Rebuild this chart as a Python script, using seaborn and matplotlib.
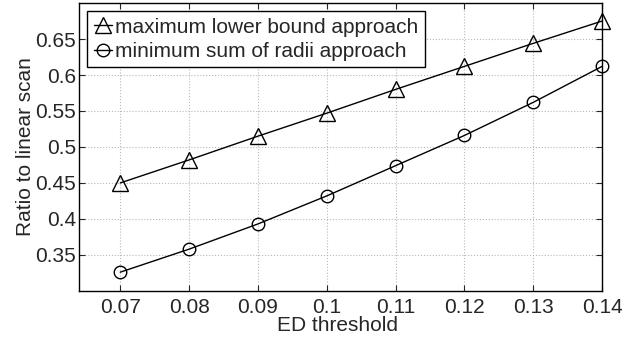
import matplotlib
matplotlib.use("Agg")
import matplotlib.pyplot as plt
import numpy as np
import pandas as pd
import seaborn as sns

sns.set_style("ticks")
plt.rcParams['font.family'] = ['Liberation Sans', 'DejaVu Sans']

# data
thresholds = [0.07, 0.08, 0.09, 0.10, 0.11, 0.12, 0.13, 0.14]
max_lower_bound = [0.450, 0.482, 0.515, 0.547, 0.580, 0.612, 0.644, 0.675]
min_sum_radii = [0.326, 0.358, 0.393, 0.432, 0.474, 0.516, 0.562, 0.612]
xtick_labels = ["0.07", "0.08", "0.09", "0.1", "0.11", "0.12", "0.13", "0.14"]
ytick_vals = [0.35, 0.4, 0.45, 0.5, 0.55, 0.6, 0.65]
ytick_labels = ["0.35", "0.4", "0.45", "0.5", "0.55", "0.6", "0.65"]

df_a = pd.DataFrame({"x": thresholds, "y": max_lower_bound})
df_b = pd.DataFrame({"x": thresholds, "y": min_sum_radii})

fig = plt.figure(figsize=(6.22, 3.39), dpi=100)
ax = fig.add_axes([0.127, 0.142, 0.841, 0.849])

sns.lineplot(data=df_a, x="x", y="y", ax=ax, color="black", linewidth=1.0,
             marker="^", markersize=11, mfc="none", mec="black", mew=1.0,
             label="maximum lower bound approach", clip_on=False)
sns.lineplot(data=df_b, x="x", y="y", ax=ax, color="black", linewidth=1.0,
             marker="o", markersize=9, mfc="none", mec="black", mew=1.0,
             label="minimum sum of radii approach", clip_on=False)

ax.set_xlim(0.064, 0.14)
ax.set_ylim(0.3, 0.7)
ax.set_xticks(thresholds)
ax.set_xticklabels(xtick_labels)
ax.set_yticks(ytick_vals)
ax.set_yticklabels(ytick_labels)
ax.tick_params(direction="in", top=True, right=True, labelsize=15, length=4,
               width=0.8)
ax.tick_params(axis="x", pad=5)
ax.tick_params(axis="y", pad=2)
ax.grid(True, linestyle=":", color="#b8b8b8", linewidth=0.8)
for s in ax.spines.values():
    s.set_color("black")
    s.set_linewidth(1.0)

ax.set_xlabel("ED threshold", fontsize=15, va="top")
ax.xaxis.set_label_coords(0.494, -0.088)
ax.set_ylabel("Ratio to linear scan", fontsize=15, labelpad=0)

leg = ax.legend(loc="upper left", fontsize=15, handlelength=0.9,
                handletextpad=0.15, borderpad=0.3, labelspacing=0.25,
                borderaxespad=0.4, fancybox=False, framealpha=1)
leg.get_frame().set_edgecolor("black")
leg.get_frame().set_linewidth(1.0)

fig.savefig("out.png", dpi=100)
